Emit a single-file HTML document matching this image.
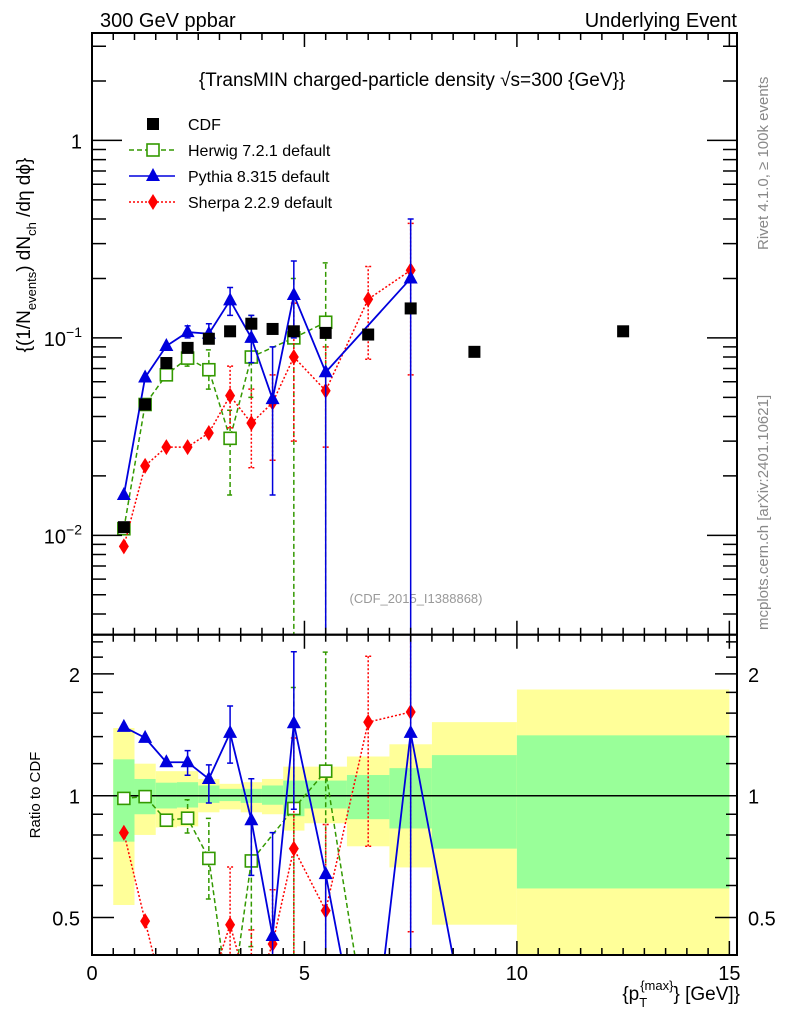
<!DOCTYPE html>
<html><head><meta charset="utf-8"><style>
html,body{margin:0;padding:0;background:#fff;width:786px;height:1024px;overflow:hidden}
svg{display:block}
svg text{font-family:"Liberation Sans",sans-serif}
</style></head><body>
<svg id="chart" width="786" height="1024" xmlns="http://www.w3.org/2000/svg">
<defs>
<clipPath id="clipMain"><rect x="92" y="33" width="645" height="601.7"/></clipPath>
<clipPath id="clipRatio"><rect x="92" y="634.7" width="645" height="320.3"/></clipPath>
</defs>
<text x="100" y="27" font-size="20">300 GeV ppbar</text>
<text x="737" y="27" font-size="20" text-anchor="end">Underlying Event</text>
<text x="412" y="86" font-size="19" text-anchor="middle">{TransMIN charged-particle density √s=300 {GeV}}</text>
<text x="416" y="603" font-size="13" fill="#999" text-anchor="middle">(CDF_2015_I1388868)</text>
<text transform="translate(768,250) rotate(-90)" font-size="15" fill="#888">Rivet 4.1.0, ≥ 100k events</text>
<text transform="translate(768,630) rotate(-90)" font-size="15" fill="#888">mcplots.cern.ch [arXiv:2401.10621]</text>
<text transform="translate(30,255) rotate(-90)" font-size="19" text-anchor="middle">{(1/N<tspan font-size="13" dy="6">events</tspan><tspan dy="-6">) dN</tspan><tspan font-size="13" dy="6">ch</tspan><tspan dy="-6"> /dη  dϕ}</tspan></text>
<text transform="translate(40,795) rotate(-90)" font-size="15" text-anchor="middle">Ratio to CDF</text>
<text x="740" y="1000" font-size="19" text-anchor="end">{p<tspan font-size="13" dy="7">T</tspan><tspan font-size="13" dy="-17" dx="-7">{max}</tspan><tspan dy="10">} [GeV]}</tspan></text>
<g id="gBand"></g><g id="gMain" clip-path="url(#clipMain)"></g><g id="gRatio" clip-path="url(#clipRatio)"></g><g id="gAxes"></g><g id="gLegend"></g>
</svg>
<script>
const xs=[0.75,1.25,1.75,2.25,2.75,3.25,3.75,4.25,4.75,5.5,6.5,7.5,9,12.5];
const cdf=[0.011,0.046,0.0746,0.089,0.099,0.108,0.118,0.111,0.108,0.106,0.104,0.141,0.085,0.108];
const herwig=[0.0108,0.046,0.065,0.079,0.069,0.031,0.080,null,0.10,0.12,null,null,null,null];
const herwigLo=[null,null,null,0.072,0.055,0.016,0.05,null,0.001,0.001,null,null,null,null];
const herwigHi=[null,null,null,0.087,0.087,0.043,0.13,null,0.2,0.24,null,null,null,null];
const pythia=[0.016,0.063,0.091,0.107,0.105,0.155,0.10,0.049,0.165,0.067,null,0.20,null,null];
const pythiaLo=[null,null,null,0.1,0.095,0.13,0.075,0.016,0.1,0.001,null,0.001,null,null];
const pythiaHi=[null,null,null,0.115,0.118,0.18,0.13,0.09,0.245,0.067,null,0.4,null,null];
const sherpa=[0.0088,0.0225,0.028,0.028,0.033,0.051,0.037,0.047,0.080,0.054,0.157,0.22,null,null];
const sherpaLo=[null,null,null,null,null,0.035,0.022,0.024,0.03,0.028,0.078,0.065,null,null];
const sherpaHi=[null,null,null,null,null,0.072,0.055,0.065,0.15,0.09,0.23,0.38,null,null];
const herwigRatio=[0.985,0.995,0.87,0.88,0.70,0.29,0.69,null,0.93,1.15,0.25,null,null,null];
const pythiaRatio=[1.48,1.39,1.21,1.21,1.10,1.43,0.87,0.45,1.51,0.64,0.18,1.43,0.21,null];
const sherpaRatio=[0.81,0.49,0.3,0.31,0.33,0.48,0.31,0.43,0.74,0.52,1.52,1.61,null,null];
const binEdges=[0.5,1,1.5,2,2.5,3,3.5,4,4.5,5,6,7,8,10,15];
const yelHi=[1.47,1.20,1.15,1.15,1.10,1.07,1.08,1.10,1.18,1.18,1.25,1.34,1.52,1.83];
const yelLo=[0.537,0.80,0.835,0.84,0.91,0.925,0.91,0.90,0.82,0.855,0.75,0.665,0.48,0.3];
const grnHi=[1.23,1.10,1.077,1.08,1.06,1.04,1.04,1.06,1.09,1.09,1.125,1.17,1.26,1.41];
const grnLo=[0.77,0.90,0.93,0.935,0.96,0.97,0.96,0.95,0.89,0.93,0.875,0.83,0.74,0.59];
const xTicks=[0,5,10,15];
const NS="http://www.w3.org/2000/svg";
const X0=92,X1=737,XMAX=15.18,MT=33,MB=634.7,RB=955;
const sx=v=>X0+(v/XMAX)*(X1-X0);
const ly0=Math.log10(3.5),ly1=Math.log10(0.00314);
const sy=v=>MT+(ly0-Math.log10(v))/(ly0-ly1)*(MB-MT);
const r0=Math.log(2.5),r1=Math.log(0.404);
const ry=v=>MB+(r0-Math.log(Math.max(v,1e-4)))/(r0-r1)*(RB-MB);
function el(p,t,a){const e=document.createElementNS(NS,t);for(const k in a)e.setAttribute(k,a[k]);p.appendChild(e);return e;}
const gB=document.getElementById('gBand'),gM=document.getElementById('gMain'),gR=document.getElementById('gRatio'),gA=document.getElementById('gAxes'),gL=document.getElementById('gLegend');
for(let i=0;i<binEdges.length-1;i++){
 const a=sx(binEdges[i]),b=sx(binEdges[i+1]);
 const y1=el(gB,'rect',{x:a,y:ry(yelHi[i]),width:b-a,height:Math.min(RB,ry(yelLo[i]))-ry(yelHi[i]),fill:'#ffff99'});
 
 
 const g1=el(gB,'rect',{x:a,y:ry(grnHi[i]),width:b-a,height:ry(grnLo[i])-ry(grnHi[i]),fill:'#99ff99'});
 
 
}
el(gB,'line',{x1:X0,x2:X1,y1:ry(1),y2:ry(1),stroke:'#000','stroke-width':1.5});
function marker(g,type,x,y,color){
 let m;
 if(type==='sq') m=el(g,'rect',{x:x-6,y:y-6,width:12,height:12,fill:'#000'});
 else if(type==='osq') m=el(g,'rect',{x:x-6,y:y-6,width:12,height:12,fill:'#fff',stroke:color,'stroke-width':1.6});
 else if(type==='tri') m=el(g,'polygon',{points:`${x},${y-8} ${x-7},${y+5} ${x+7},${y+5}`,fill:color});
 else m=el(g,'polygon',{points:`${x},${y-8} ${x-5},${y} ${x},${y+8} ${x+5},${y}`,fill:color});
 return m;
}
function series(g,name,vals,lo,hi,ys,color,dash,type,width){
 let pts=[];
 vals.forEach((v,i)=>{if(v!=null)pts.push(sx(xs[i])+','+ys(v));});
 const pl=el(g,'polyline',{points:pts.join(' '),fill:'none',stroke:color,'stroke-width':width,'stroke-dasharray':dash});
 
 
 vals.forEach((v,i)=>{
  if(v==null)return;const x=sx(xs[i]);
  if(lo&&lo[i]!=null){
   const e=el(g,'path',{d:`M${x},${ys(lo[i])}V${ys(hi[i])}M${x-3},${ys(lo[i])}h6M${x-3},${ys(hi[i])}h6`,stroke:color,'stroke-width':1.5,'stroke-dasharray':dash,fill:'none'});
   
   
  }
  const m=marker(g,type,x,ys(v),color);
  
  
 });
}
const rat=(arr)=>arr?arr.map((v,i)=>v==null?null:v/cdf[i]):null;
series(gM,'herwig',herwig,herwigLo,herwigHi,sy,'#339900','5,3','osq',1.5);
series(gM,'sherpa',sherpa,sherpaLo,sherpaHi,sy,'#ff0000','2,2','dia',1.5);
series(gM,'pythia',pythia,pythiaLo,pythiaHi,sy,'#0000dd','','tri',1.8);
cdf.forEach((v,i)=>{const m=marker(gM,'sq',sx(xs[i]),sy(v),'#000');});
series(gR,'herwig-ratio',herwigRatio,rat(herwigLo),rat(herwigHi),ry,'#339900','5,3','osq',1.5);
series(gR,'sherpa-ratio',sherpaRatio,rat(sherpaLo),rat(sherpaHi),ry,'#ff0000','2,2','dia',1.5);
series(gR,'pythia-ratio',pythiaRatio,rat(pythiaLo),rat(pythiaHi),ry,'#0000dd','','tri',1.8);
el(gA,'rect',{x:X0,y:MT,width:X1-X0,height:MB-MT,fill:'none',stroke:'#000','stroke-width':2});
el(gA,'rect',{x:X0,y:MB,width:X1-X0,height:RB-MB,fill:'none',stroke:'#000','stroke-width':2});
let d='';
for(let v=0;v<=15.001;v+=0.5){const x=sx(v);const L=(Math.abs(v%5)<1e-6)?14:7;
 d+=`M${x},${RB}v${-L}M${x},${MB}v${-L}M${x},${MB}v${L}M${x},${MT}v${L}`;}
for(let e=-3;e<=0;e++)for(let k=1;k<=9;k++){const v=k*Math.pow(10,e);if(v<0.00314||v>3.5)continue;const y=sy(v);const L=k===1?30:14;d+=`M${X0},${y}h${L}M${X1},${y}h${-L}`;}
[0.5,0.6,0.7,0.8,0.9,1,1.2,1.4,1.6,1.8,2,2.2,2.4].forEach(v=>{const y=ry(v);const L=([0.5,1,2].includes(v))?22:11;d+=`M${X0},${y}h${L}M${X1},${y}h${-L}`;});
el(gA,'path',{d:d,stroke:'#000','stroke-width':1.5,fill:'none'});
xTicks.forEach(v=>{const t=el(gA,'text',{x:sx(v),y:980,'font-size':20,'text-anchor':'middle'});t.textContent=v;});
[[1,'1',''],[0.1,'10','−1'],[0.01,'10','−2']].forEach(a=>{const t=el(gA,'text',{x:82,y:sy(a[0])+8,'font-size':20,'text-anchor':'end'});t.textContent=a[1];if(a[2]){const s=el(t,'tspan',{dy:-9,'font-size':14});s.textContent=a[2];}});
[[2,'2'],[1,'1'],[0.5,'0.5']].forEach(a=>{[[80,'end'],[748,'start']].forEach(p=>{const t=el(gA,'text',{x:p[0],y:ry(a[0])+8,'font-size':20,'text-anchor':p[1]});t.textContent=a[1];});});
const leg=[['CDF','sq','#000',''],['Herwig 7.2.1 default','osq','#339900','5,3'],['Pythia 8.315 default','tri','#0000dd',''],['Sherpa 2.2.9 default','dia','#ff0000','2,2']];
leg.forEach((l,i)=>{const y=124+i*26;const g=el(gL,'g',{});
 if(i>0)el(g,'line',{x1:129,x2:175,y1:y,y2:y,stroke:l[2],'stroke-width':1.5,'stroke-dasharray':l[3]});
 marker(g,l[1],153,y,l[2]);
 const t=el(g,'text',{x:188,y:y+6,'font-size':16});t.textContent=l[0];});
</script>
</body></html>
